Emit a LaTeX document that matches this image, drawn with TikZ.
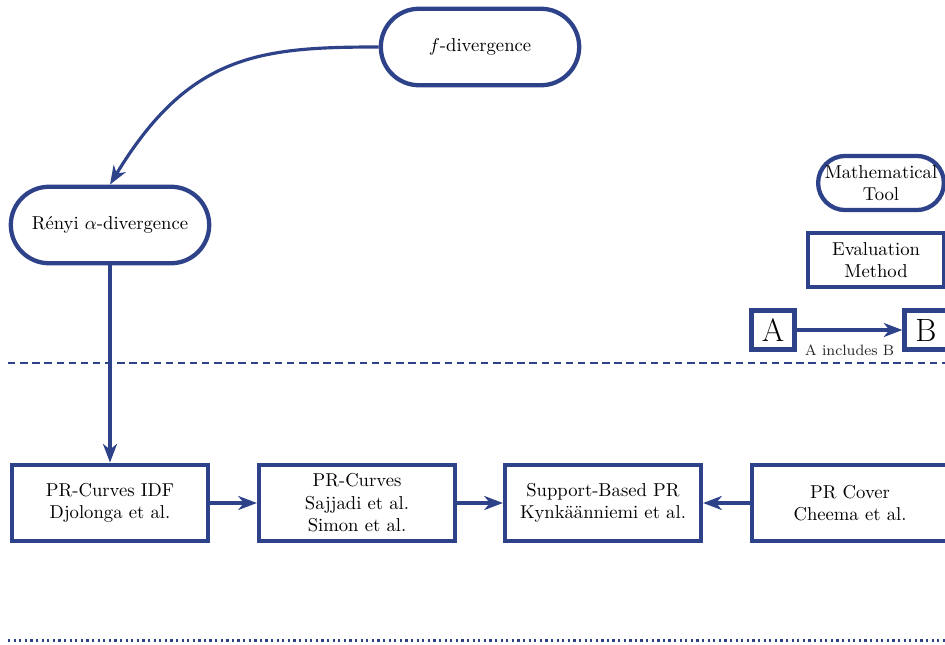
\documentclass[tikz,border=0pt]{standalone}
\usepackage{amsmath,amssymb}
\usepackage{xcolor}
\usepackage{tikz}
\usetikzlibrary{arrows.meta,shapes.misc}

\definecolor{navy}{RGB}{46,66,138}

\begin{document}
\begin{tikzpicture}[x=0.536pt,y=-0.536pt,>={Stealth[length=10pt,width=7.5pt,inset=3pt]},
		tool/.style={draw=navy,line width=2.3pt,rounded rectangle,align=center,
			minimum width=113pt,minimum height=41pt},
		method/.style={draw=navy,line width=2.3pt,rectangle,align=center,
			minimum width=105pt,minimum height=41pt},
		link/.style={->,draw=navy,line width=1.7pt}]
			\useasboundingbox (0,0) rectangle (945,644);
			
			% mathematical tools
			\node[tool] (fdiv) at (480,47) {$f$-divergence};
			\node[tool] (renyi) at (110,225) {R\'enyi $\alpha$-divergence};
			
			% evaluation methods
			\node[method] (idf) at (110,503) {PR-Curves IDF\\Djolonga et al.};
			\node[method] (sajjadi) at (357,503) {PR-Curves\\Sajjadi et al.\\Simon et al.};
			\node[method] (support) at (603,503) {Support-Based PR\\Kynk\"a\"anniemi et al.};
			\node[method] (cover) at (850,503) {PR Cover\\Cheema et al.};
			
			\draw[link] (fdiv.west) .. controls (260,47) and (189,54) .. (renyi.north);
			\draw[link] (renyi.south) -- (idf.north);
			\draw[link] (idf) -- (sajjadi);
			\draw[link] (sajjadi) -- (support);
			\draw[link] (cover) -- (support);
			
			% legend
			\node[tool,minimum width=66pt,minimum height=29pt,inner xsep=0pt] (legtool) at (881,183) {Mathematical\\Tool};
			\node[method,minimum width=73pt,minimum height=29pt] (legmethod) at (876,260) {Evaluation\\Method};
			\node[method,minimum width=23pt,minimum height=21pt,font=\LARGE,inner sep=1pt] (legA) at (773,330) {A};
			\node[method,minimum width=23pt,minimum height=21pt,font=\LARGE,inner sep=1pt] (legB) at (926,330) {B};
			\draw[link] (legA) -- node[below=4pt,font=\footnotesize,text=black!85]{A includes B} (legB);
			
			\draw[navy,line width=1.6pt,dash pattern=on 4pt off 2.5pt] (8,363)--(945,363);
			\draw[navy,line width=1.6pt,dash pattern=on 1.2pt off 1.8pt] (8,640)--(945,640);
		\end{tikzpicture}
\end{document}
